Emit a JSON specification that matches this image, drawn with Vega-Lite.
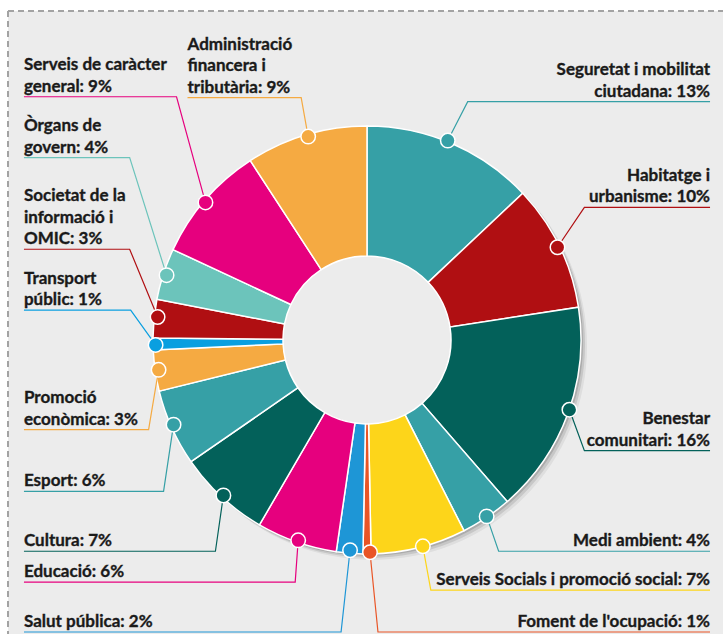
{
  "$schema": "https://vega.github.io/schema/vega-lite/v6.json",
  "width": 724,
  "height": 635,
  "autosize": {"type": "fit", "contains": "padding"},
  "padding": {"left": 7, "top": 10, "right": 0, "bottom": 0},
  "background": "#ffffff",
  "config": {
    "view": {"fill": "#ececec", "stroke": null},
    "axis": {"disable": true},
    "text": {"font": "Lato", "fontSize": 17, "fontWeight": "bold", "lineBreak": "\n", "lineHeight": 21.5, "color": "#1a1a1a", "stroke": "#1a1a1a", "strokeWidth": 0.35, "baseline": "bottom"}
  },
  "datasets": {
    "slices": [
      {"i": 1, "name": "Seguretat i mobilitat ciutadana", "value": 13, "label": "Seguretat i mobilitat\nciutadana: 13%", "side": "R", "lines": 2},
      {"i": 2, "name": "Habitatge i urbanisme", "value": 9.6, "label": "Habitatge i\nurbanisme: 10%", "side": "R", "lines": 2},
      {"i": 3, "name": "Benestar comunitari", "value": 16.1, "label": "Benestar\ncomunitari: 16%", "side": "R", "lines": 2},
      {"i": 4, "name": "Medi ambient", "value": 3.9, "label": "Medi ambient: 4%", "side": "R", "lines": 1},
      {"i": 5, "name": "Serveis Socials i promoció social", "value": 7.2, "label": "Serveis Socials i promoció social: 7%", "side": "R", "lines": 1},
      {"i": 6, "name": "Foment de l'ocupació", "value": 0.6, "label": "Foment de l'ocupació: 1%", "side": "R", "lines": 1},
      {"i": 7, "name": "Salut pública", "value": 2, "label": "Salut pública: 2%", "side": "L", "lines": 1},
      {"i": 8, "name": "Educació", "value": 6.1, "label": "Educació: 6%", "side": "L", "lines": 1},
      {"i": 9, "name": "Cultura", "value": 7, "label": "Cultura: 7%", "side": "L", "lines": 1},
      {"i": 10, "name": "Esport", "value": 5.8, "label": "Esport: 6%", "side": "L", "lines": 1},
      {"i": 11, "name": "Promoció econòmica", "value": 3.1, "label": "Promoció\neconòmica: 3%", "side": "L", "lines": 2},
      {"i": 12, "name": "Transport públic", "value": 0.9, "label": "Transport\npúblic: 1%", "side": "L", "lines": 2},
      {"i": 13, "name": "Societat de la informació i OMIC", "value": 2.9, "label": "Societat de la\ninformació i\nOMIC: 3%", "side": "L", "lines": 3},
      {"i": 14, "name": "Òrgans de govern", "value": 3.9, "label": "Òrgans de\ngovern: 4%", "side": "L", "lines": 2},
      {"i": 15, "name": "Serveis de caràcter general", "value": 8.9, "label": "Serveis de caràcter\ngeneral: 9%", "side": "L", "lines": 2},
      {"i": 16, "name": "Administració financera i tributària", "value": 9.2, "label": "Administració\nfinancera i\ntributària: 9%", "side": "L", "lines": 3}
    ],
    "leaders": [
      {"name": "Seguretat i mobilitat ciutadana", "k": 0, "x": 711, "y": 101},
      {"name": "Seguretat i mobilitat ciutadana", "k": 1, "x": 468, "y": 101},
      {"name": "Seguretat i mobilitat ciutadana", "k": 2, "x": 448, "y": 140},
      {"name": "Habitatge i urbanisme", "k": 0, "x": 711, "y": 207},
      {"name": "Habitatge i urbanisme", "k": 1, "x": 585, "y": 207},
      {"name": "Habitatge i urbanisme", "k": 2, "x": 558, "y": 247},
      {"name": "Benestar comunitari", "k": 0, "x": 711, "y": 451},
      {"name": "Benestar comunitari", "k": 1, "x": 585, "y": 451},
      {"name": "Benestar comunitari", "k": 2, "x": 570, "y": 410},
      {"name": "Medi ambient", "k": 0, "x": 711, "y": 552},
      {"name": "Medi ambient", "k": 1, "x": 499, "y": 552},
      {"name": "Medi ambient", "k": 2, "x": 487, "y": 517},
      {"name": "Serveis Socials i promoció social", "k": 0, "x": 711, "y": 591},
      {"name": "Serveis Socials i promoció social", "k": 1, "x": 431, "y": 591},
      {"name": "Serveis Socials i promoció social", "k": 2, "x": 423, "y": 547},
      {"name": "Foment de l'ocupació", "k": 0, "x": 711, "y": 633},
      {"name": "Foment de l'ocupació", "k": 1, "x": 378, "y": 633},
      {"name": "Foment de l'ocupació", "k": 2, "x": 370, "y": 553},
      {"name": "Salut pública", "k": 0, "x": 23, "y": 633},
      {"name": "Salut pública", "k": 1, "x": 341, "y": 633},
      {"name": "Salut pública", "k": 2, "x": 350, "y": 551},
      {"name": "Educació", "k": 0, "x": 23, "y": 583},
      {"name": "Educació", "k": 1, "x": 295, "y": 583},
      {"name": "Educació", "k": 2, "x": 298, "y": 541},
      {"name": "Cultura", "k": 0, "x": 23, "y": 552},
      {"name": "Cultura", "k": 1, "x": 215, "y": 552},
      {"name": "Cultura", "k": 2, "x": 223, "y": 496},
      {"name": "Esport", "k": 0, "x": 23, "y": 492},
      {"name": "Esport", "k": 1, "x": 163, "y": 492},
      {"name": "Esport", "k": 2, "x": 173, "y": 425},
      {"name": "Promoció econòmica", "k": 0, "x": 23, "y": 430},
      {"name": "Promoció econòmica", "k": 1, "x": 148, "y": 430},
      {"name": "Promoció econòmica", "k": 2, "x": 158, "y": 370},
      {"name": "Transport públic", "k": 0, "x": 23, "y": 310},
      {"name": "Transport públic", "k": 1, "x": 130, "y": 310},
      {"name": "Transport públic", "k": 2, "x": 155, "y": 345},
      {"name": "Societat de la informació i OMIC", "k": 0, "x": 23, "y": 249},
      {"name": "Societat de la informació i OMIC", "k": 1, "x": 129, "y": 249},
      {"name": "Societat de la informació i OMIC", "k": 2, "x": 157, "y": 317},
      {"name": "Òrgans de govern", "k": 0, "x": 23, "y": 157},
      {"name": "Òrgans de govern", "k": 1, "x": 129, "y": 157},
      {"name": "Òrgans de govern", "k": 2, "x": 166, "y": 275},
      {"name": "Serveis de caràcter general", "k": 0, "x": 23, "y": 96},
      {"name": "Serveis de caràcter general", "k": 1, "x": 176, "y": 96},
      {"name": "Serveis de caràcter general", "k": 2, "x": 205, "y": 202},
      {"name": "Administració financera i tributària", "k": 0, "x": 187, "y": 97},
      {"name": "Administració financera i tributària", "k": 1, "x": 301, "y": 97},
      {"name": "Administració financera i tributària", "k": 2, "x": 308, "y": 136}
    ]
  },
  "layer": [
    {
      "data": {"values": [{"a": 1}]},
      "mark": {"type": "rule", "stroke": "#a3a3a3", "strokeWidth": 2, "strokeDash": [6, 4]},
      "encoding": {
        "x": {"datum": 7, "type": "quantitative", "scale": {"domain": [7, 724], "nice": false, "zero": false}, "axis": null},
        "y": {"datum": 10, "type": "quantitative", "scale": {"domain": [635, 10], "nice": false, "zero": false}, "axis": null},
        "y2": {"datum": 635}
      }
    },
    {
      "data": {"values": [{"a": 1}]},
      "mark": {"type": "rule", "stroke": "#a3a3a3", "strokeWidth": 2, "strokeDash": [6, 4]},
      "encoding": {
        "x": {"datum": 7, "type": "quantitative"},
        "x2": {"datum": 724},
        "y": {"datum": 10, "type": "quantitative"}
      }
    },
    {
      "data": {"values": [{"a": 1}]},
      "mark": {"type": "arc", "outerRadius": 214, "innerRadius": 150, "color": "#000000", "opacity": 0.06},
      "encoding": {
        "x": {"datum": 373, "type": "quantitative"},
        "y": {"datum": 346, "type": "quantitative"}
      }
    },
    {
      "data": {"values": [{"a": 1}]},
      "mark": {"type": "arc", "outerRadius": 214, "innerRadius": 150, "color": "#000000", "opacity": 0.1},
      "encoding": {
        "x": {"datum": 371, "type": "quantitative"},
        "y": {"datum": 344, "type": "quantitative"}
      }
    },
    {
      "data": {"values": [{"a": 1}]},
      "mark": {"type": "arc", "outerRadius": 214, "innerRadius": 150, "color": "#000000", "opacity": 0.14},
      "encoding": {
        "x": {"datum": 369, "type": "quantitative"},
        "y": {"datum": 342, "type": "quantitative"}
      }
    },
    {
      "data": {"name": "slices"},
      "mark": {"type": "arc", "outerRadius": 214, "innerRadius": 84, "stroke": "#ffffff", "strokeWidth": 1.5},
      "encoding": {
        "theta": {"field": "value", "type": "quantitative", "stack": true},
        "order": {"field": "i", "type": "quantitative"},
        "color": {
          "field": "name", "type": "nominal", "legend": null,
          "scale": {
            "domain": ["Seguretat i mobilitat ciutadana", "Habitatge i urbanisme", "Benestar comunitari", "Medi ambient", "Serveis Socials i promoció social", "Foment de l'ocupació", "Salut pública", "Educació", "Cultura", "Esport", "Promoció econòmica", "Transport públic", "Societat de la informació i OMIC", "Òrgans de govern", "Serveis de caràcter general", "Administració financera i tributària"],
            "range": ["#36a0a6", "#b00f12", "#03615a", "#36a0a6", "#fdd51a", "#e95526", "#1e96d6", "#e6007e", "#03615a", "#36a0a6", "#f5aa42", "#0a9fe0", "#b00f12", "#6cc4bb", "#e6007e", "#f5aa42"]
          }
        },
        "x": {"datum": 367, "type": "quantitative"},
        "y": {"datum": 340, "type": "quantitative"}
      }
    },
    {
      "data": {"name": "leaders"},
      "mark": {"type": "line", "strokeWidth": 1.2},
      "encoding": {
        "x": {"field": "x", "type": "quantitative"},
        "y": {"field": "y", "type": "quantitative"},
        "order": {"field": "k", "type": "quantitative"},
        "detail": {"field": "name"},
        "color": {"field": "name", "type": "nominal", "legend": null}
      }
    },
    {
      "data": {"name": "leaders"},
      "transform": [{"filter": "datum.k == 2"}],
      "mark": {"type": "point", "filled": true, "opacity": 1, "size": 210, "stroke": "#ffffff", "strokeWidth": 1.5},
      "encoding": {
        "x": {"field": "x", "type": "quantitative"},
        "y": {"field": "y", "type": "quantitative"},
        "color": {"field": "name", "type": "nominal", "legend": null}
      }
    },
    {
      "data": {"name": "leaders"},
      "transform": [
        {"filter": "datum.k == 0"},
        {"lookup": "name", "from": {"data": {"name": "slices"}, "key": "name", "fields": ["label", "side", "lines"]}},
        {"filter": "datum.side == 'L' && datum.lines == 1"}
      ],
      "mark": {"type": "text", "align": "left", "dy": -1},
      "encoding": {
        "x": {"field": "x", "type": "quantitative"},
        "y": {"field": "y", "type": "quantitative"},
        "text": {"field": "label"}
      }
    },
    {
      "data": {"name": "leaders"},
      "transform": [
        {"filter": "datum.k == 0"},
        {"lookup": "name", "from": {"data": {"name": "slices"}, "key": "name", "fields": ["label", "side", "lines"]}},
        {"filter": "datum.side == 'L' && datum.lines == 2"}
      ],
      "mark": {"type": "text", "align": "left", "dy": -22.5},
      "encoding": {
        "x": {"field": "x", "type": "quantitative"},
        "y": {"field": "y", "type": "quantitative"},
        "text": {"field": "label"}
      }
    },
    {
      "data": {"name": "leaders"},
      "transform": [
        {"filter": "datum.k == 0"},
        {"lookup": "name", "from": {"data": {"name": "slices"}, "key": "name", "fields": ["label", "side", "lines"]}},
        {"filter": "datum.side == 'L' && datum.lines == 3"}
      ],
      "mark": {"type": "text", "align": "left", "dy": -44},
      "encoding": {
        "x": {"field": "x", "type": "quantitative"},
        "y": {"field": "y", "type": "quantitative"},
        "text": {"field": "label"}
      }
    },
    {
      "data": {"name": "leaders"},
      "transform": [
        {"filter": "datum.k == 0"},
        {"lookup": "name", "from": {"data": {"name": "slices"}, "key": "name", "fields": ["label", "side", "lines"]}},
        {"filter": "datum.side == 'R' && datum.lines == 1"}
      ],
      "mark": {"type": "text", "align": "right", "dy": -1},
      "encoding": {
        "x": {"field": "x", "type": "quantitative"},
        "y": {"field": "y", "type": "quantitative"},
        "text": {"field": "label"}
      }
    },
    {
      "data": {"name": "leaders"},
      "transform": [
        {"filter": "datum.k == 0"},
        {"lookup": "name", "from": {"data": {"name": "slices"}, "key": "name", "fields": ["label", "side", "lines"]}},
        {"filter": "datum.side == 'R' && datum.lines == 2"}
      ],
      "mark": {"type": "text", "align": "right", "dy": -22.5},
      "encoding": {
        "x": {"field": "x", "type": "quantitative"},
        "y": {"field": "y", "type": "quantitative"},
        "text": {"field": "label"}
      }
    }
  ]
}
